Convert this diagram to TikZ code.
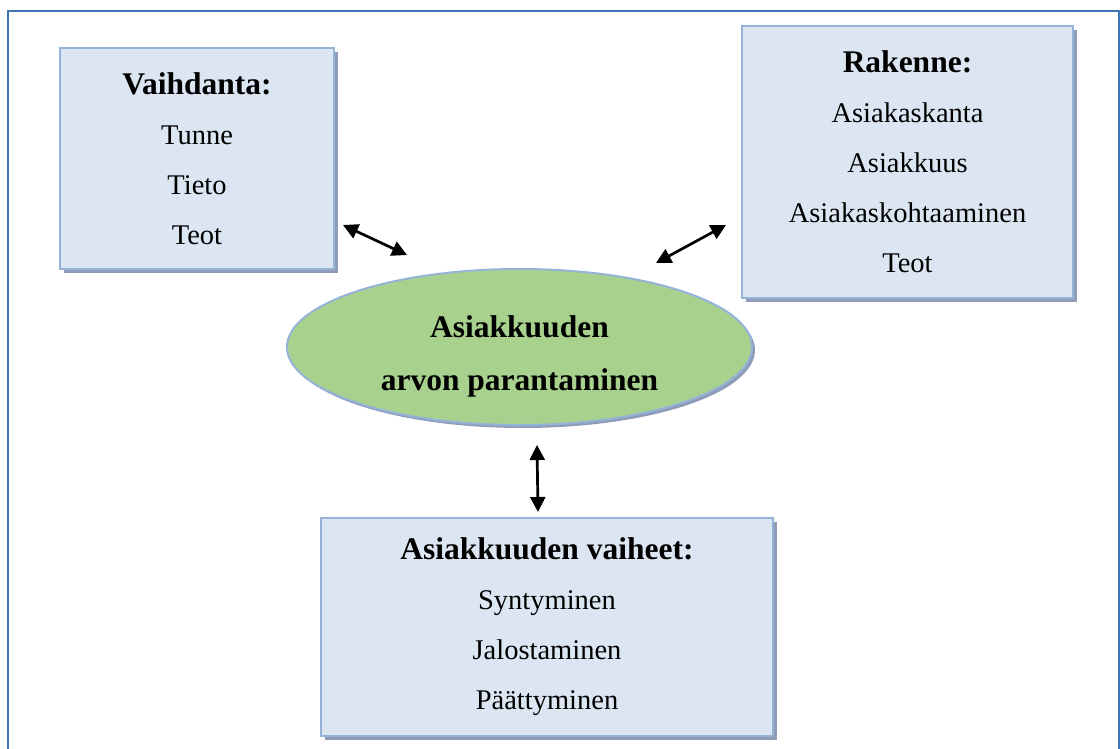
\documentclass[tikz,border=0pt]{standalone}
\usepackage{fontspec}
\setmainfont{Liberation Serif}
\usetikzlibrary{shapes.geometric,shadows,arrows.meta}
\definecolor{framec}{HTML}{3E76B6}
\definecolor{boxfill}{HTML}{DCE6F2}
\definecolor{boxline}{HTML}{95B3D7}
\definecolor{shadowc}{HTML}{8E9CB8}
\definecolor{ellfill}{HTML}{A9D18E}
\tikzset{
  infobox/.style={rectangle, draw=boxline, line width=2pt, fill=boxfill,
    inner sep=0pt, align=center,
    font=\fontsize{28.5}{50}\selectfont,
    drop shadow={shadow xshift=4pt, shadow yshift=-4pt, fill=shadowc, opacity=1}},
  centreell/.style={ellipse, draw=boxline, line width=2pt, fill=ellfill,
    inner sep=0pt, align=center,
    font=\fontsize{31.5}{53}\selectfont\bfseries,
    drop shadow={shadow xshift=3pt, shadow yshift=-3pt, fill=shadowc, opacity=1}},
  dblarrow/.style={line width=2.7pt, {Triangle[length=15pt,width=15pt]}-{Triangle[length=15pt,width=15pt]}}
}
\newcommand{\boxtitle}[1]{{\fontsize{31.5}{50}\selectfont\bfseries #1}}
\begin{document}
\begin{tikzpicture}[x=1pt,y=-1pt]
\useasboundingbox (0,0) rectangle (1120,749);
% outer frame
\draw[framec, line width=2.4pt] (8,770) -- (8,11) -- (1118.8,11) -- (1118.8,770);

\node[infobox, minimum width=274pt, minimum height=221pt] (vaihdanta) at (197,158.5)
  {\boxtitle{Vaihdanta:}\\ Tunne\\ Tieto\\ Teot};
\node[infobox, minimum width=331pt, minimum height=272pt] (rakenne) at (907.5,162)
  {\boxtitle{Rakenne:}\\ Asiakaskanta\\ Asiakkuus\\ Asiakaskohtaaminen\\ Teot};
\node[infobox, minimum width=452pt, minimum height=218pt] (vaiheet) at (547,627)
  {\boxtitle{Asiakkuuden vaiheet:}\\ Syntyminen\\ Jalostaminen\\ Päättyminen};
\node[centreell, minimum width=465pt, minimum height=156pt] (arvo) at (519.5,347)
  {\rule{0pt}{40pt}Asiakkuuden\\ arvon parantaminen};

\coordinate (a1) at (343,225);
\coordinate (a2) at (407,255);
\coordinate (b1) at (656,263);
\coordinate (b2) at (726,225);
\coordinate (c1) at (537,445);
\coordinate (c2) at (538,512);
\draw[dblarrow] (a1) -- (a2);
\draw[dblarrow] (b1) -- (b2);
\draw[dblarrow] (c1) -- (c2);
\end{tikzpicture}
\end{document}
